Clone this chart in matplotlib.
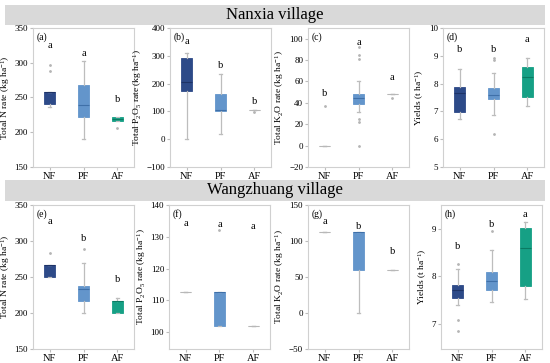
import numpy as np
import matplotlib
matplotlib.use("Agg")
import matplotlib.pyplot as plt
from matplotlib.patches import Rectangle

plt.rcParams['font.family'] = ['Liberation Serif', 'DejaVu Serif']
plt.rcParams['mathtext.fontset'] = 'custom'
plt.rcParams['mathtext.rm'] = 'Liberation Serif'
plt.rcParams['mathtext.it'] = 'Liberation Serif:italic'

groups = ['NF', 'PF', 'AF']
colors = ['#2d4a88', '#6395cb', '#16a085']
medcol = ['#1d3366', '#3f70a8', '#0b7a62']

villages = ['Nanxia village', 'Wangzhuang village']

# box stats per panel: q1, median, q3, whisker low, whisker high, fliers, letters, letter heights
panel_a = dict(q1=[240.5, 222, 216.5], med=[257.5, 239.5, 219], q3=[258, 268, 222],
               lo=[236, 190, 216.5], hi=[258, 303, 222],
               fl=[[288.5, 297], [], [206]], let=['a', 'a', 'b'], ly=[325, 313, 247])
panel_b = dict(q1=[173.6, 100, 106], med=[205, 106, 106], q3=[290.6, 163, 106],
               lo=[0, 20, 106], hi=[309, 236, 106],
               fl=[[], [], [98]], let=['a', 'b', 'b'], ly=[350, 266, 135])
panel_c = dict(q1=[0, 39, 48], med=[0, 45, 48], q3=[0, 48, 48],
               lo=[0, 31, 48], hi=[0, 60.5, 48],
               fl=[[37.5], [0, 22.5, 24.5, 81, 85, 92], [45]], let=['b', 'a', 'a'], ly=[48.5, 96, 64])
panel_d = dict(q1=[6.98, 7.46, 7.51], med=[7.65, 7.59, 8.25], q3=[7.89, 7.84, 8.6],
               lo=[6.74, 6.88, 7.2], hi=[8.53, 8.37, 8.93],
               fl=[[], [6.2, 8.86, 8.93], []], let=['b', 'b', 'a'], ly=[9.24, 9.24, 9.58])
panel_e = dict(q1=[249.5, 216, 199.5], med=[266.7, 233, 216.7], q3=[266.7, 238, 216.7],
               lo=[249.5, 199.5, 199.5], hi=[266.7, 269, 221],
               fl=[[283], [288.5], []], let=['a', 'b', 'b'], ly=[327, 303, 247])
panel_f = dict(q1=[112.5, 102, 102], med=[112.5, 112.5, 102], q3=[112.5, 112.5, 102],
               lo=[112.5, 102, 102], hi=[112.5, 112.5, 102],
               fl=[[], [132], []], let=['a', 'a', 'a'], ly=[134.3, 134, 133.3])
panel_g = dict(q1=[112, 60, 60], med=[112, 112, 60], q3=[112, 112, 60],
               lo=[112, 0, 60], hi=[112, 112, 60],
               fl=[[], [], []], let=['a', 'b', 'b'], ly=[127, 120, 85])
panel_h = dict(q1=[7.54, 7.71, 7.79], med=[7.72, 7.91, 8.6], q3=[7.82, 8.1, 9.02],
               lo=[7.4, 7.46, 7.52], hi=[8.16, 8.56, 9.14],
               fl=[[6.85, 7.09, 8.26], [8.96], []], let=['b', 'b', 'a'], ly=[8.62, 9.08, 9.3])

n_lab = 'Total N rate (kg ha$^{-1}$)'
p_lab = 'Total P$_2$O$_5$ rate (kg ha$^{-1}$)'
k_lab = 'Total K$_2$O rate (kg ha$^{-1}$)'
y_lab = 'Yields (t ha$^{-1}$)'

panels = [
    ('(a)', panel_a, n_lab, (150, 350), np.arange(150, 351, 50)),
    ('(b)', panel_b, p_lab, (-100, 400), np.arange(-100, 401, 100)),
    ('(c)', panel_c, k_lab, (-20, 110), np.arange(-20, 101, 20)),
    ('(d)', panel_d, y_lab, (5, 10), np.arange(5, 11, 1)),
    ('(e)', panel_e, n_lab, (150, 350), np.arange(150, 351, 50)),
    ('(f)', panel_f, p_lab, (94.7, 140), np.arange(100, 141, 10)),
    ('(g)', panel_g, k_lab, (-50, 150), np.arange(-50, 151, 50)),
    ('(h)', panel_h, y_lab, (6.47, 9.5), np.arange(7, 10, 1)),
]

W, H = 550, 363
fig = plt.figure(figsize=(5.5, 3.63), dpi=100)

lefts_top = [33, 170, 308, 443]
lefts_bot = [33, 169, 308, 441]
axw = 101

# grey banners
for (y0, y1), name in zip([(5, 25), (180, 201)], villages):
    fig.patches.append(Rectangle((5 / W, 1 - y1 / H), 540 / W, (y1 - y0) / H,
                                 transform=fig.transFigure, facecolor='#d9d9d9',
                                 edgecolor='none', zorder=0))
    fig.text(0.5, 1 - (y0 + y1) / 2 / H, name, ha='center', va='center', fontsize=12)

grey = '#bdbdbd'
for i, (tag, d, ylab, ylim, yt) in enumerate(panels):
    if i < 4:
        l, t, b = lefts_top[i], 28, 167
    else:
        l, t, b = lefts_bot[i - 4], 205, 349
    ax = fig.add_axes([l / W, 1 - b / H, axw / W, (b - t) / H])
    stats = []
    for j in range(3):
        stats.append(dict(q1=d['q1'][j], med=d['med'][j], q3=d['q3'][j],
                          whislo=d['lo'][j], whishi=d['hi'][j], fliers=d['fl'][j]))
    bp = ax.bxp(stats, positions=[1, 2, 3], widths=0.32, patch_artist=True,
                showfliers=True,
                whiskerprops=dict(color=grey, lw=0.9),
                capprops=dict(color=grey, lw=0.9),
                flierprops=dict(marker='o', markersize=1.0, markerfacecolor='#b5b5b5',
                                markeredgecolor='#b5b5b5'),
                capwidths=0.08)
    for j, box in enumerate(bp['boxes']):
        box.set_facecolor(colors[j])
        box.set_edgecolor(colors[j])
        box.set_linewidth(0.6)
        bp['medians'][j].set_color(medcol[j])
        bp['medians'][j].set_linewidth(0.8)
        if d['q1'][j] == d['q3'][j]:
            bp['medians'][j].set_color('#b8b8b8')
            box.set_edgecolor('#b8b8b8')
    for j in range(3):
        ax.text(j + 1, d['ly'][j], d['let'][j], ha='center', va='center', fontsize=7.5)
    ax.text(0.04, 0.97, tag, transform=ax.transAxes, ha='left', va='top', fontsize=7)
    ax.set_xlim(0.5, 3.5)
    ax.set_ylim(*ylim)
    ax.set_yticks(yt)
    ax.set_xticks([1, 2, 3])
    ax.set_xticklabels(groups)
    ax.tick_params(axis='x', labelsize=7.5, length=2, color=grey, pad=1.5)
    ax.tick_params(axis='y', labelsize=6.5, length=2, color=grey, pad=1.5)
    ax.set_ylabel(ylab, fontsize=6.8, labelpad=2)
    for s in ax.spines.values():
        s.set_color('#d0d0d0')
        s.set_linewidth(0.8)

fig.savefig('out.png', dpi=100)
